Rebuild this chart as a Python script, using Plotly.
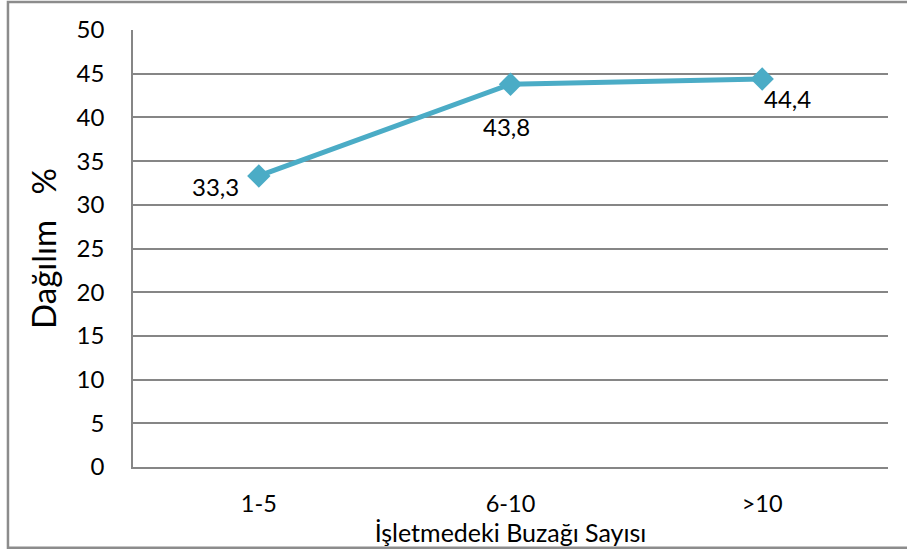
import plotly.graph_objects as go

# Calf count groups and their share (%)
categories = ["1-5", "6-10", ">10"]
values = [33.3, 43.8, 44.4]
value_labels = ["33,3", "43,8", "44,4"]
y_ticks = [0, 5, 10, 15, 20, 25, 30, 35, 40, 45, 50]

FONT = "Lato"
LINE_COLOR = "#4BACC6"
GRID_COLOR = "#868686"

fig = go.Figure()
fig.add_trace(go.Scatter(
    x=categories,
    y=values,
    mode="lines+markers",
    line=dict(color=LINE_COLOR, width=5),
    marker=dict(symbol="diamond", size=18, color=LINE_COLOR),
    hoverinfo="skip",
    showlegend=False,
))

# Value labels placed around each point
label_offsets = [(-43, -11), (-4, -42), (25, -20)]
for cat, val, txt, (dx, dy) in zip(categories, values, value_labels, label_offsets):
    fig.add_annotation(
        x=cat, y=val, text=txt, showarrow=False,
        xshift=dx, yshift=dy,
        font=dict(family=FONT, size=24, color="#000000"),
    )

# Outer chart frame
fig.add_shape(
    type="rect", xref="paper", yref="paper",
    x0=-0.1656, x1=1.03, y0=-0.185, y1=1.064,
    line=dict(color="#8C8C8C", width=2.5),
    fillcolor="rgba(0,0,0,0)", layer="below",
)

fig.update_layout(
    width=907, height=551,
    margin=dict(l=133, r=19, t=30, b=84),
    paper_bgcolor="white",
    plot_bgcolor="white",
    font=dict(family=FONT, color="#000000"),
    xaxis=dict(
        type="category",
        range=[-0.5, 2.5],
        showgrid=False,
        showline=True, linecolor=GRID_COLOR, linewidth=1.5,
        ticks="", tickfont=dict(size=23.5),
        ticklabelstandoff=15,
        title=dict(text="İşletmedeki Buzağı Sayısı", font=dict(size=25), standoff=0),
        mirror=False,
    ),
    yaxis=dict(
        range=[0, 50],
        tickvals=y_ticks,
        showgrid=True, gridcolor=GRID_COLOR, gridwidth=1.5,
        showline=True, linecolor=GRID_COLOR, linewidth=1.5,
        zeroline=False,
        ticks="", tickfont=dict(size=24),
        ticklabelstandoff=22,
        title=dict(text="Dağılım   %", font=dict(size=33), standoff=10),
    ),
)

fig.write_html("out.html")
